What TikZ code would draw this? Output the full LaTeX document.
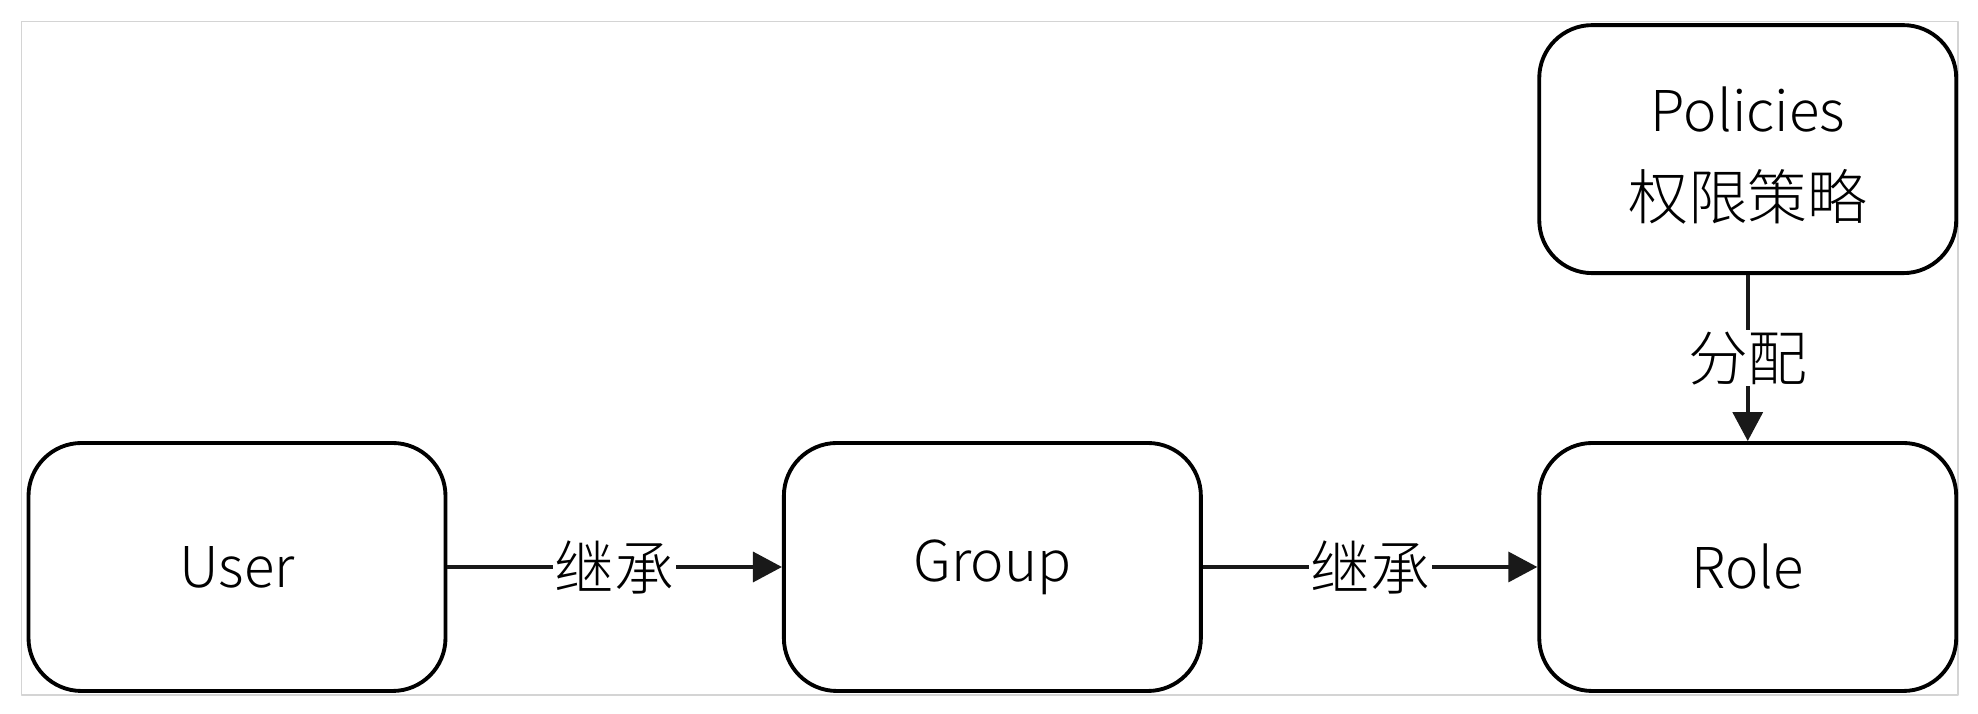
\documentclass[tikz,border=0pt]{standalone}
\usepackage{fontspec}
\setmainfont{Noto Sans CJK SC}[UprightFont={* Light}]
\usetikzlibrary{positioning,arrows.meta}
\tikzset{
	box/.style={draw, line width=1.1pt, rounded corners=0.53cm, minimum width=4.17cm, minimum height=2.48cm, align=center, font=\fontsize{16}{23}\selectfont},
	arr/.style={-{Triangle[length=0.29cm,width=0.30cm]}, line width=1pt, draw=black!90, fill=black!90},
	lbl/.style={fill=white, inner sep=0.5pt, font=\fontsize{17}{20}\selectfont}
}
\begin{document}
\begin{tikzpicture}[node distance=3.345cm, line join=round]
	\useasboundingbox (0,0) rectangle (19.78,7.14);
	\draw[black!17, line width=0.5pt] (0.214,0.19) rectangle (19.58,6.926);
	\node[box] (user) at (2.37,1.47) {User};
	\node[box, right=of user] (group) {Group};
	\node[box, right=of group] (role) {Role};
	\node[box, above=1.66cm of role, font=\fontsize{16}{25}\selectfont] (policies) {\rule{0pt}{16.5pt}Policies\\{\fontsize{17}{25}\selectfont 权限策略}};
	\draw[arr] (user) -- node[lbl] {继承} (group);
	\draw[arr] (group) -- node[lbl] {继承} (role);
	\draw[arr] (policies) -- node[lbl] {分配} (role);
\end{tikzpicture}
\end{document}
